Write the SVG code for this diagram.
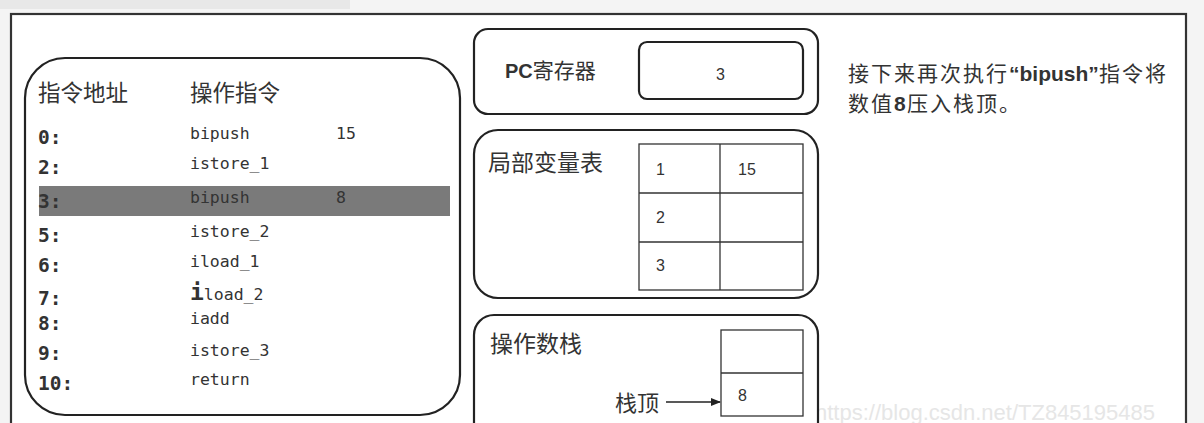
<svg xmlns="http://www.w3.org/2000/svg" width="1204" height="423" viewBox="0 0 1204 423">
<style>
.box{fill:#fff;stroke:#222;stroke-width:2.2}
.cell{fill:#fff;stroke:#333;stroke-width:1.3}
.cn{font-family:"Noto Sans CJK SC","Noto Sans",sans-serif;fill:#333}
.mono{font-family:"DejaVu Sans Mono","Liberation Mono",monospace;fill:#333}
.sans{font-family:"Liberation Sans","Noto Sans",sans-serif;fill:#333}
.note{font-size:21px;letter-spacing:2px}
</style>
<defs>
<marker id="arr" markerWidth="10" markerHeight="8" refX="9" refY="4" orient="auto" markerUnits="userSpaceOnUse">
<path d="M0,0 L10,4 L0,8 z" fill="#222"/>
</marker>
</defs>
<rect x="0" y="0" width="1204" height="423" fill="#f4f4f4"/>
<rect x="0" y="0" width="350" height="9" fill="#e8e8e8"/>
<rect x="11" y="14" width="1175" height="420" fill="#fff" stroke="#333" stroke-width="2.2"/>
<text x="815" y="420" font-family="Liberation Sans,sans-serif" font-size="22" fill="#e6e6e6">https://blog.csdn.net/TZ845195485</text>

<g id="code">
<rect class="box" x="25" y="58" width="435" height="357" rx="40" ry="40"/>
<text class="cn" x="38" y="101" font-size="22.5">指令地址</text>
<text class="cn" x="190" y="101" font-size="22.5">操作指令</text>
<rect x="39" y="186" width="411" height="30" fill="#7a7a7a"/>
<g class="mono" font-size="19.5" font-weight="bold">
<text x="38" y="144">0:</text>
<text x="38" y="174">2:</text>
<text x="38" y="208">3:</text>
<text x="38" y="242">5:</text>
<text x="38" y="272">6:</text>
<text x="38" y="305">7:</text>
<text x="38" y="330">8:</text>
<text x="38" y="360">9:</text>
<text x="38" y="390">10:</text>
</g>
<g class="mono" font-size="16.5">
<text x="190" y="139">bipush</text>
<text x="336" y="139">15</text>
<text x="190" y="169">istore_1</text>
<text x="190" y="203">bipush</text>
<text x="336" y="203">8</text>
<text x="190" y="237">istore_2</text>
<text x="190" y="267">iload_1</text>
<text x="190" y="300"><tspan font-size="23" font-weight="bold">i</tspan>load_2</text>
<text x="190" y="324">iadd</text>
<text x="190" y="356">istore_3</text>
<text x="190" y="385">return</text>
</g>
</g>

<g id="pc">
<rect class="box" x="474" y="29" width="344" height="85" rx="14" ry="14"/>
<rect class="box" x="639" y="42" width="164" height="57" rx="8" ry="8"/>
<text class="cn" x="505" y="78" font-size="21"><tspan class="sans" font-weight="bold" font-size="20">PC</tspan>寄存器</text>
<text class="sans" x="716" y="80" font-size="16">3</text>
</g>

<g id="locals">
<rect class="box" x="474" y="130" width="344" height="168" rx="24" ry="24"/>
<text class="cn" x="488" y="171" font-size="23">局部变量表</text>
<rect class="cell" x="639" y="144" width="164" height="146"/>
<line class="cell" x1="720" y1="144" x2="720" y2="290"/>
<line class="cell" x1="639" y1="193" x2="803" y2="193"/>
<line class="cell" x1="639" y1="242" x2="803" y2="242"/>
<g class="sans" font-size="16">
<text x="656" y="175">1</text>
<text x="738" y="175">15</text>
<text x="656" y="223">2</text>
<text x="656" y="271">3</text>
</g>
</g>

<g id="stack">
<rect class="box" x="474" y="315" width="344" height="140" rx="20" ry="20"/>
<text class="cn" x="490" y="352" font-size="23">操作数栈</text>
<rect class="cell" x="721" y="330" width="82" height="86"/>
<line class="cell" x1="721" y1="373" x2="803" y2="373"/>
<text class="sans" x="738" y="401" font-size="16">8</text>
<text class="cn" x="615" y="411" font-size="22">栈顶</text>
</g>

<g id="connectors">
<line x1="666" y1="402" x2="720" y2="402" stroke="#222" stroke-width="1.5" marker-end="url(#arr)"/>
</g>

<g id="note">
<text class="cn note" x="848" y="81">接下来再次执行</text>
<text class="sans" x="1009" y="81" font-size="21" font-weight="bold">“bipush”</text>
<text class="cn note" x="1099" y="81">指令将</text>
<text class="cn note" x="848" y="111">数值</text>
<text class="sans" x="894" y="111" font-size="21" font-weight="bold">8</text>
<text class="cn note" x="907" y="111">压入栈顶。</text>
</g>
</svg>
